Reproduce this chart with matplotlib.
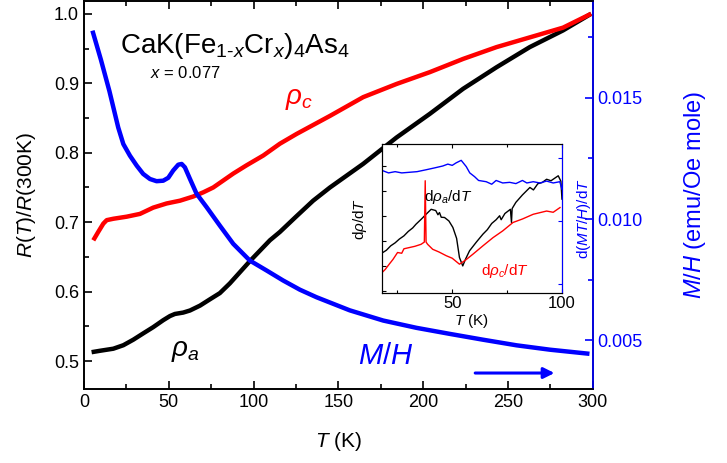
import numpy as np
import matplotlib.pyplot as plt
from matplotlib.ticker import MultipleLocator, NullFormatter

plt.rcParams['font.family'] = ['Liberation Sans', 'DejaVu Sans']
plt.rcParams['mathtext.fontset'] = 'custom'
plt.rcParams['mathtext.rm'] = 'Liberation Sans'
plt.rcParams['mathtext.it'] = 'Liberation Sans:italic'
plt.rcParams['mathtext.bf'] = 'Liberation Sans:bold'

blue = '#0000ff'
red = '#ff0000'

# normalized resistance, a-axis
T_a = [4.5, 9.4, 17.3, 23.2, 29.1, 34.9, 40.8, 46.7, 50.7, 53.6, 58.5, 62.5,
       68.4, 74.2, 80.1, 86, 91.9, 97.8, 103.7, 109.6, 115.5, 125, 135.1, 145,
       164.6, 184.3, 203.9, 223.5, 243.2, 262.8, 282.4, 299]
R_a = [0.513, 0.515, 0.518, 0.523, 0.531, 0.540, 0.549, 0.559, 0.565, 0.568,
       0.570, 0.573, 0.580, 0.589, 0.598, 0.612, 0.628, 0.644, 0.659, 0.674,
       0.686, 0.708, 0.731, 0.750, 0.784, 0.822, 0.856, 0.892, 0.923, 0.952,
       0.976, 1.0]

# normalized resistance, c-axis
T_c = [5.5, 8.4, 11.4, 13.4, 17.3, 25.2, 33, 40.8, 48.7, 56.6, 64.4, 70.3,
       76.2, 82.1, 88, 95.9, 105.7, 115.5, 125.3, 145, 164.6, 184.3, 203.9,
       223.5, 243.2, 262.8, 282.4, 299]
R_c = [0.674, 0.686, 0.698, 0.703, 0.705, 0.708, 0.712, 0.721, 0.727, 0.731,
       0.737, 0.743, 0.750, 0.760, 0.770, 0.782, 0.796, 0.813, 0.827, 0.853,
       0.880, 0.899, 0.916, 0.935, 0.952, 0.966, 0.980, 1.0]

# magnetization M/H (emu/Oe mole)
T_m = [5, 10, 15, 20.2, 23.2, 27.1, 31.1, 34.9, 38.9, 42.8, 46.7, 49.7, 52.6,
       55.6, 57.6, 59.5, 62.5, 66.4, 72.3, 80.1, 88, 97.8, 107.7, 117.4, 127.3,
       137.1, 156.7, 176.4, 196, 215.7, 235.3, 255, 274.6, 298]
MH = [0.01776, 0.01656, 0.01527, 0.01377, 0.01309, 0.01261, 0.01220, 0.01186,
      0.01165, 0.01156, 0.01158, 0.01170, 0.01200, 0.01224, 0.01227, 0.01213,
      0.01165, 0.01104, 0.01049, 0.00973, 0.00898, 0.00829, 0.00788, 0.00747,
      0.00709, 0.00678, 0.00624, 0.00582, 0.00552, 0.00527, 0.00503, 0.00480,
      0.00462, 0.00445]

# inset: derivatives (arb. units)
T_da = [18.4, 20, 22, 24, 25.9, 28, 30, 32, 33.5, 36, 38.1, 40.4, 42.5, 43.5,
        44.2, 45, 46.5, 48.5, 50.3, 52, 53.3, 54.8, 56, 57.9, 61, 64, 66, 68,
        70, 71.6, 72.3, 74, 76.5, 77, 77.3, 79, 82, 85.4, 87, 89, 91, 93, 95,
        98.3, 99.5, 100]
dra = [1.53, 1.62, 1.80, 1.92, 2.07, 2.20, 2.38, 2.52, 2.67, 2.88, 3.07, 3.27,
       3.22, 3.05, 3.14, 2.95, 2.94, 2.80, 2.54, 2.10, 1.33, 0.99, 1.25, 1.60,
       1.95, 2.27, 2.45, 2.70, 2.85, 3.01, 2.85, 3.10, 3.27, 2.74, 3.30, 3.55,
       3.85, 4.15, 4.05, 4.30, 4.35, 4.48, 4.42, 4.62, 4.40, 3.68]

T_dc = [18, 19.5, 21.3, 23, 25.1, 27, 28, 30.5, 33, 35.8, 37.3, 37.7, 38.1,
        38.8, 41.1, 44, 47.3, 50, 53.3, 56, 59.4, 64, 68.6, 73, 77.7, 82,
        86.9, 93, 96, 99.1]
drc = [0.72, 0.85, 1.06, 1.25, 1.53, 1.50, 1.68, 1.73, 1.78, 1.86, 1.95, 4.42,
       1.95, 1.86, 1.66, 1.55, 1.40, 1.30, 1.06, 1.22, 1.46, 1.80, 2.13, 2.40,
       2.74, 2.88, 3.07, 3.20, 3.15, 3.34]

T_dm = [18, 21, 24, 27, 30.5, 34, 38.1, 42, 45.7, 48, 50, 51.8, 54.1, 56.4,
        58, 60.2, 62, 65.5, 68, 70, 73, 76.2, 79, 82, 84, 86.9, 90, 93, 96,
        99, 100]
dmt = [1.80, 1.76, 1.78, 1.76, 1.77, 1.78, 1.81, 1.84, 1.87, 1.90, 1.88, 1.92,
       1.96, 1.86, 1.76, 1.70, 1.64, 1.62, 1.58, 1.64, 1.60, 1.61, 1.59, 1.64,
       1.60, 1.62, 1.60, 1.63, 1.60, 1.62, 1.50]

fig = plt.figure(figsize=(7.27, 4.63), dpi=100)
ax = fig.add_axes([0.1155, 0.1598, 0.700, 0.839])
ax2 = ax.twinx()

ax.plot(T_a, R_a, color='k', lw=3.2, solid_capstyle='butt', zorder=3)
ax.plot(T_c, R_c, color=red, lw=3.2, solid_capstyle='butt', zorder=3)
ax2.plot(T_m, MH, color=blue, lw=3.2, solid_capstyle='butt')

ax.set_xlim(0, 300)
ax.set_ylim(0.46, 1.019)
ax2.set_ylim(0.003, 0.019)

ax.xaxis.set_major_locator(MultipleLocator(50))
ax.xaxis.set_minor_locator(MultipleLocator(25))
ax.yaxis.set_minor_locator(MultipleLocator(0.05))
ax2.yaxis.set_minor_locator(MultipleLocator(0.0025))
ax.set_yticks([0.5, 0.6, 0.7, 0.8, 0.9, 1.0])
ax.set_yticklabels(['0.5', '0.6', '0.7', '0.8', '0.9', '1.0'])
ax2.set_yticks([0.005, 0.010, 0.015])
ax2.set_yticklabels(['0.005', '0.010', '0.015'])

ax.tick_params(which='both', direction='in', top=True, right=False,
               labelsize=13, width=1.2)
ax.tick_params(which='major', length=6)
ax.tick_params(which='minor', length=3.5)
ax2.tick_params(which='both', direction='in', colors=blue, labelsize=13,
                width=1.2)
ax2.tick_params(which='major', length=6)
ax2.tick_params(which='minor', length=3.5)
for s in ax.spines.values():
    s.set_linewidth(1.2)
for s in ax2.spines.values():
    s.set_linewidth(1.2)
ax2.spines['right'].set_color(blue)

ax.set_xlabel('$T$ (K)', fontsize=15)
ax.xaxis.set_label_coords(0.5, -0.105)
ax.set_ylabel('$R(T)/R$(300K)', fontsize=15)
ax.yaxis.set_label_coords(-0.09, 0.5)
ax2.set_ylabel('$M/H$ (emu/Oe mole)', fontsize=17, color=blue)
ax2.yaxis.set_label_coords(1.175, 0.5)

ax.text(21, 0.954, r'CaK(Fe$_{1\text{-}x}$Cr$_x$)$_4$As$_4$', fontsize=20,
        ha='left', va='center')
ax.text(39, 0.915, '$x$ = 0.077', fontsize=12, ha='left', va='center')
ax.text(127, 0.877, r'$\rho_c$', fontsize=20, color=red, ha='center',
        va='center')
ax.text(60, 0.515, r'$\rho_a$', fontsize=20, color='k', ha='center',
        va='center')
ax.text(178, 0.508, '$M/H$', fontsize=21, color=blue, ha='center',
        va='center')
ax.annotate('', xy=(279, 0.483), xytext=(229, 0.483),
            arrowprops=dict(arrowstyle='-|>', color=blue, lw=2.2,
                            mutation_scale=16))

# inset with derivatives
ins = fig.add_axes([0.5254, 0.3672, 0.2476, 0.3218])
ins2 = ins.twinx()
ins.plot(T_da, dra, color='k', lw=1.0)
ins.plot(T_dc, drc, color=red, lw=1.0)
ins2.plot(T_dm, dmt, color=blue, lw=1.0)
ins.set_xlim(18, 100)
ins.set_ylim(-0.1, 5.9)
ins2.set_ylim(-0.15, 2.22)
ins.xaxis.set_major_locator(MultipleLocator(50))
ins.xaxis.set_minor_locator(MultipleLocator(25))
ins.yaxis.set_major_locator(MultipleLocator(1))
ins2.yaxis.set_major_locator(MultipleLocator(1))
ins.yaxis.set_major_formatter(NullFormatter())
ins2.yaxis.set_major_formatter(NullFormatter())
ins.tick_params(which='both', direction='in', top=True, labelsize=12,
                length=3, width=0.8, pad=2)
ins.tick_params(which='minor', length=2)
ins2.tick_params(which='both', direction='in', colors=blue, length=3,
                 width=0.8)
ins2.spines['right'].set_color(blue)
ins.set_xlabel('$T$ (K)', fontsize=11)
ins.xaxis.set_label_coords(0.5, -0.13)
ins.set_ylabel(r'd$\rho$/d$T$', fontsize=11)
ins.yaxis.set_label_coords(-0.07, 0.5)
ins2.set_ylabel('d($MT/H$)/d$T$', fontsize=11, color=blue)
ins2.yaxis.set_label_coords(1.075, 0.5)
ins.text(48, 3.75, r'd$\rho_a$/d$T$', fontsize=11, ha='center', va='center')
ins.text(74, 0.78, r'd$\rho_c$/d$T$', fontsize=11, color=red, ha='center',
         va='center')

fig.savefig('out.png', dpi=100)
